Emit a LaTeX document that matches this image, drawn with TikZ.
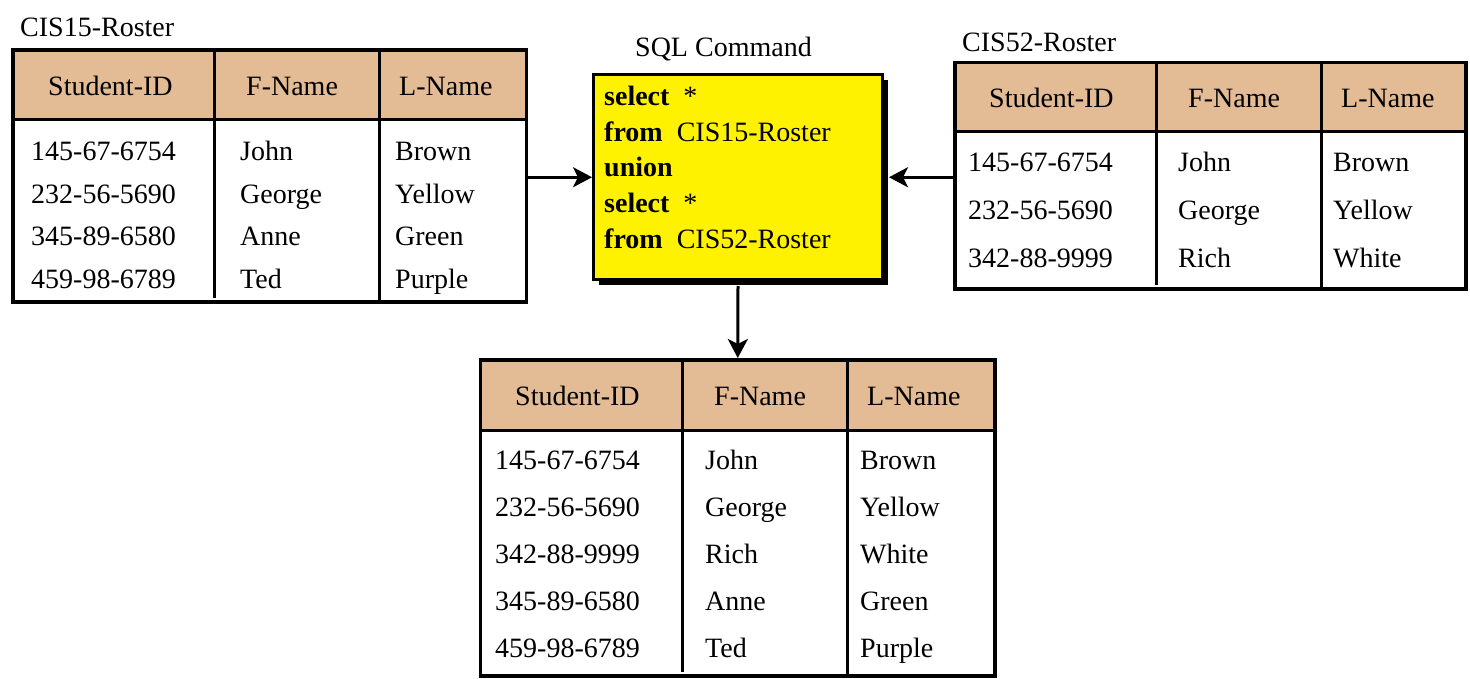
\documentclass[tikz,border=0pt]{standalone}
\usepackage{fontspec}
\setmainfont{Liberation Serif}
\usetikzlibrary{arrows.meta,shadows}
\definecolor{headtan}{RGB}{227,187,148}

% #1 name, #2 left, #3 top, #4 right, #5 bottom, #6 header line, #7 first divider, #8 second divider
\newcommand\rostertable[8]{%
  \node[tblframe, minimum width={#4-#2}, minimum height={#5-#3}] (#1) at ({(#2+#4)/2},{(#3+#5)/2}) {};
  \fill[headtan] (#2,#3) rectangle (#4,#6);
  \draw[grid] (#2,#6) -- (#4,#6);
  \draw[grid] (#7,#3) -- (#7,{#5-4});
  \draw[grid] (#8,#3) -- (#8,#5);
  \draw[tbl] (#1.north west) rectangle (#1.south east);
}

\begin{document}
\begin{tikzpicture}[x=1pt,y=-1pt,
  txt/.style={anchor=base west, inner sep=0, font=\fontsize{28}{34}\selectfont},
  tblframe/.style={inner sep=0, outer sep=0},
  tbl/.style={line width=3.5pt},
  grid/.style={line width=3pt},
  sqlbox/.style={draw, line width=3pt, fill=yellow, inner sep=0,
    drop shadow={opacity=1, fill=black, shadow xshift=5pt, shadow yshift=-5pt}},
  arr/.style={line width=3pt, -{Stealth[length=19pt,width=20pt,inset=5pt]}}]
\useasboundingbox (0,0) rectangle (1470,679);

% ---- CIS15-Roster ----
\node[txt] (cap15) at (20,37) {CIS15-Roster};
\rostertable{t15}{13}{50}{526.5}{302}{120}{214}{379.5}
\node[txt] (t15-h1) at (48,96) {Student-ID};
\node[txt] (t15-h2) at (246,96) {F-Name};
\node[txt] (t15-h3) at (399,96) {L-Name};
\foreach \a/\b/\c [count=\i] in {145-67-6754/John/Brown, 232-56-5690/George/Yellow,
    345-89-6580/Anne/Green, 459-98-6789/Ted/Purple} {
  \node[txt] (t15-\i-a) at (31,{160.5+42.7*(\i-1)}) {\a};
  \node[txt] (t15-\i-b) at (240,{160.5+42.7*(\i-1)}) {\b};
  \node[txt] (t15-\i-c) at (395,{160.5+42.7*(\i-1)}) {\c};
}

% ---- CIS52-Roster ----
\node[txt] (cap52) at (962,52) {CIS52-Roster};
\rostertable{t52}{955}{62.5}{1466}{289}{132}{1156}{1321}
\node[txt] (t52-h1) at (989,107.5) {Student-ID};
\node[txt] (t52-h2) at (1188,107.5) {F-Name};
\node[txt] (t52-h3) at (1341,107.5) {L-Name};
\foreach \a/\b/\c [count=\i] in {145-67-6754/John/Brown, 232-56-5690/George/Yellow,
    342-88-9999/Rich/White} {
  \node[txt] (t52-\i-a) at (968,{172+47.5*(\i-1)}) {\a};
  \node[txt] (t52-\i-b) at (1178,{172+47.5*(\i-1)}) {\b};
  \node[txt] (t52-\i-c) at (1333,{172+47.5*(\i-1)}) {\c};
}

% ---- SQL command ----
\node[txt] (capsql) at (635,57) {SQL Command};
\node[sqlbox, minimum width=289, minimum height=204.5] (sql) at (738,177.25) {};
\node[txt] (q1) at (604,105.5) {\textbf{select}~~*};
\node[txt] (q2) at (604,141.5) {\textbf{from}~~CIS15-Roster};
\node[txt] (q3) at (604,177) {\textbf{union}};
\node[txt] (q4) at (604,212.5) {\textbf{select}~~*};
\node[txt] (q5) at (604,248.5) {\textbf{from}~~CIS52-Roster};

% ---- result ----
\rostertable{res}{480.5}{360}{995}{676}{430}{682}{847}
\node[txt] (res-h1) at (515,405) {Student-ID};
\node[txt] (res-h2) at (714,405) {F-Name};
\node[txt] (res-h3) at (867,405) {L-Name};
\foreach \a/\b/\c [count=\i] in {145-67-6754/John/Brown, 232-56-5690/George/Yellow,
    342-88-9999/Rich/White, 345-89-6580/Anne/Green, 459-98-6789/Ted/Purple} {
  \node[txt] (res-\i-a) at (495,{469.5+46.9*(\i-1)}) {\a};
  \node[txt] (res-\i-b) at (705,{469.5+46.9*(\i-1)}) {\b};
  \node[txt] (res-\i-c) at (860,{469.5+46.9*(\i-1)}) {\c};
}

% ---- connectors ----
\draw[arr] (sql.west -| t15.east) -- (sql.west);
\draw[arr] (sql.east -| t52.west) -- ([xshift=5pt]sql.east);
\draw[arr, shorten >=2pt] ([yshift=-5pt]sql.south) -- (res.north);
\end{tikzpicture}
\end{document}
